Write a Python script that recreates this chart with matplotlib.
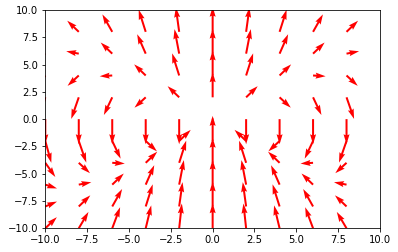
import numpy as np
import matplotlib
matplotlib.use("Agg")
import matplotlib.pyplot as plt

# grid positions
xs = [-10, -8, -6, -4, -2, 0, 2, 4, 6, 8]
ys = [-10, -8, -6, -4, -2, 0, 2, 4, 6, 8]

# U components (rows: y from -10 to 8, cols: x from -10 to 8)
U = [
    [0.69, 0.58, 0.47, 0.33, 0.16, 0.0, -0.16, -0.33, -0.47, -0.58],
    [0.70, 0.69, 0.59, 0.42, 0.20, 0.0, -0.20, -0.42, -0.59, -0.69],
    [0.70, 0.75, 0.69, 0.51, 0.28, 0.0, -0.28, -0.51, -0.69, -0.75],
    [0.60, 0.67, 0.75, 0.69, 0.42, 0.0, -0.42, -0.69, -0.75, -0.67],
    [0.36, 0.45, 0.50, 0.67, 0.69, 0.0, -0.69, -0.67, -0.50, -0.45],
    [0.0, 0.0, 0.0, 0.0, 0.0, 0.0, 0.0, 0.0, 0.0, 0.0],
    [-0.36, -0.45, -0.50, -0.67, -0.69, 0.0, 0.69, 0.67, 0.50, 0.45],
    [-0.60, -0.67, -0.75, -0.69, -0.42, 0.0, 0.42, 0.69, 0.75, 0.67],
    [-0.70, -0.75, -0.69, -0.51, -0.28, 0.0, 0.28, 0.51, 0.69, 0.75],
    [-0.70, -0.69, -0.59, -0.42, -0.20, 0.0, 0.20, 0.42, 0.59, 0.69],
]

# V components
V = [
    [1.02, 1.50, 1.93, 2.10, 2.27, 2.30, 2.27, 2.10, 1.93, 1.50],
    [0.45, 1.02, 1.60, 2.03, 2.23, 2.30, 2.23, 2.03, 1.60, 1.02],
    [-0.35, 0.22, 1.02, 1.78, 2.25, 2.30, 2.25, 1.78, 1.02, 0.22],
    [-1.30, -0.95, -0.07, 1.02, 2.03, 2.30, 2.03, 1.02, -0.07, -0.95],
    [-2.00, -1.98, -1.62, -0.95, 1.02, 2.30, 1.02, -0.95, -1.62, -1.98],
    [-2.30, -2.30, -2.30, -2.30, -2.30, 0.0, -2.30, -2.30, -2.30, -2.30],
    [-2.00, -1.98, -1.62, -0.95, 1.02, 2.30, 1.02, -0.95, -1.62, -1.98],
    [-1.30, -0.95, -0.07, 1.02, 2.03, 2.30, 2.03, 1.02, -0.07, -0.95],
    [-0.35, 0.22, 1.02, 1.78, 2.25, 2.30, 2.25, 1.78, 1.02, 0.22],
    [0.45, 1.02, 1.60, 2.03, 2.23, 2.30, 2.23, 2.03, 1.60, 1.02],
]

X, Y = np.meshgrid(xs, ys)

fig = plt.figure(figsize=(398 / 72, 252 / 72), dpi=72)
ax = fig.add_axes([45.3 / 398, (252 - 228.3) / 252, (380 - 45.3) / 398, (228.3 - 10) / 252])
ax.quiver(X, Y, np.array(U), np.array(V), color="red",
          angles="xy", scale_units="xy", scale=1)
ax.set_xlim(-10, 10)
ax.set_ylim(-10, 10)
fig.savefig("out.png", dpi=72)
